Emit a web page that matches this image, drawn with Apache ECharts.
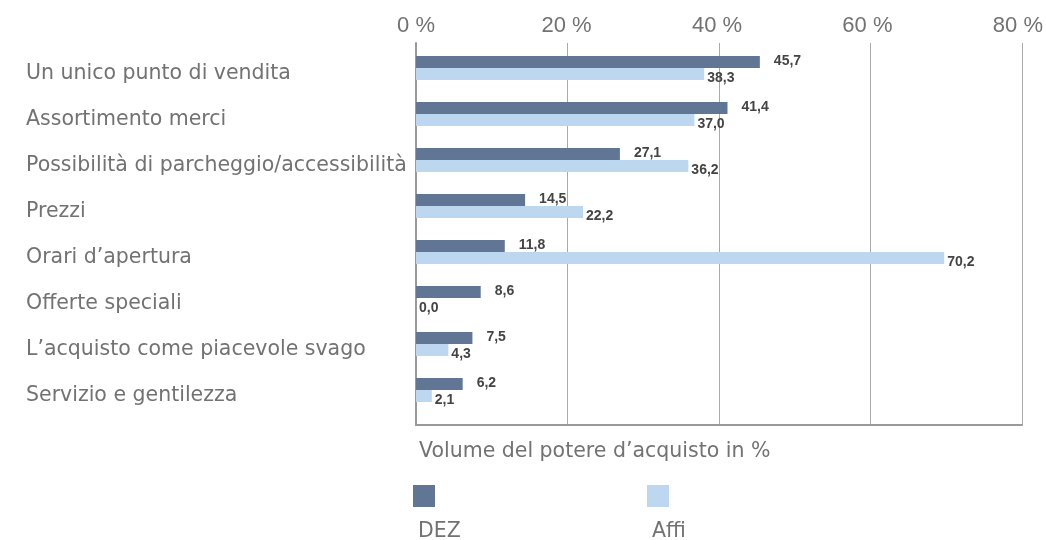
<!DOCTYPE html>
<html>
<head>
<meta charset="utf-8">
<script src="https://cdn.jsdelivr.net/npm/echarts@6/dist/echarts.min.js"></script>
<style>
  html, body { margin: 0; padding: 0; background: #fff; }
  #chart { width: 1046px; height: 540px; }
</style>
</head>
<body>
<div id="chart"></div>
<script>
// data
var categories = [
  'Un unico punto di vendita',
  'Assortimento merci',
  'Possibilità di parcheggio/accessibilità',
  'Prezzi',
  'Orari d\u2019apertura',
  'Offerte speciali',
  'L\u2019acquisto come piacevole svago',
  'Servizio e gentilezza'
];
var dez = [45.7, 41.4, 27.1, 14.5, 11.8, 8.6, 7.5, 6.2];
var affi = [38.3, 37.0, 36.2, 22.2, 70.2, 0.0, 4.3, 2.1];
var xTicks = [0, 20, 40, 60, 80];

var FONT = '"Liberation Sans", Arial, sans-serif';
var WIDE = '"DejaVu Sans", sans-serif';
var colDez = '#617694';
var colAffi = '#bdd7f0';
var txt = '#727272';

function fmt(v) { return v.toFixed(1).replace('.', ','); }

var chart = echarts.init(document.getElementById('chart'));

chart.setOption({
  animation: false,
  textStyle: { fontFamily: FONT },
  grid: [
    { left: 416, right: 24, top: 45, height: 368 },   // bars
    { left: 416, right: 24, top: 43, bottom: 115 }    // frame + gridlines
  ],
  xAxis: [
    {
      gridIndex: 0, type: 'value', position: 'top',
      min: xTicks[0], max: xTicks[xTicks.length - 1], interval: 20,
      axisLine: { show: false }, axisTick: { show: false },
      splitLine: { show: false },
      axisLabel: {
        formatter: '{value} %', margin: 8,
        fontSize: 22, color: txt, fontFamily: FONT
      }
    },
    {
      gridIndex: 1, type: 'value', position: 'bottom',
      min: xTicks[0], max: xTicks[xTicks.length - 1], interval: 20,
      axisLine: { show: true, lineStyle: { color: '#9a9a9a', width: 2 } },
      axisTick: { show: false }, axisLabel: { show: false },
      splitLine: { show: true, lineStyle: { color: '#aaaaaa', width: 1 } }
    }
  ],
  yAxis: [
    {
      gridIndex: 0, type: 'category', inverse: true, data: categories,
      axisLine: { show: false }, axisTick: { show: false },
      axisLabel: {
        align: 'left', verticalAlign: 'top', lineHeight: 11,
        margin: 390, fontSize: 20.5, color: txt, fontFamily: WIDE
      }
    },
    {
      gridIndex: 1, type: 'value', min: 0, max: 1,
      axisLine: { show: true, lineStyle: { color: '#9a9a9a', width: 2 } },
      axisTick: { show: false }, axisLabel: { show: false },
      splitLine: { show: false }
    }
  ],
  title: [
    { text: 'Volume del potere d\u2019acquisto in %', left: 414, top: 436,
      textStyle: { fontSize: 20.5, fontWeight: 'normal', color: txt, fontFamily: WIDE } },
    { text: 'DEZ', left: 413, top: 516,
      textStyle: { fontSize: 20.5, fontWeight: 'normal', color: txt, fontFamily: WIDE } },
    { text: 'Affi', left: 647, top: 516,
      textStyle: { fontSize: 20.5, fontWeight: 'normal', color: txt, fontFamily: WIDE } }
  ],
  legend: [
    { data: ['DEZ'], left: 408, top: 480, icon: 'rect', itemWidth: 22, itemHeight: 22,
      formatter: function () { return ''; }, selectedMode: false },
    { data: ['Affi'], left: 642, top: 480, icon: 'rect', itemWidth: 22, itemHeight: 22,
      formatter: function () { return ''; }, selectedMode: false }
  ],
  series: [
    {
      name: 'DEZ', type: 'bar', xAxisIndex: 0, yAxisIndex: 0,
      data: dez, barWidth: 12, barGap: '0%',
      itemStyle: { color: colDez },
      label: {
        show: true, position: 'right', distance: 14, offset: [0, -1],
        formatter: function (p) { return fmt(p.value); },
        fontSize: 14, fontWeight: 'bold', color: '#444', fontFamily: FONT
      }
    },
    {
      name: 'Affi', type: 'bar', xAxisIndex: 0, yAxisIndex: 0,
      data: affi, barWidth: 12, barGap: '0%',
      itemStyle: { color: colAffi },
      label: {
        show: true, position: 'right', distance: 3, offset: [0, 4],
        formatter: function (p) { return fmt(p.value); },
        fontSize: 14, fontWeight: 'bold', color: '#444', fontFamily: FONT
      }
    }
  ]
});
</script>
</body>
</html>
